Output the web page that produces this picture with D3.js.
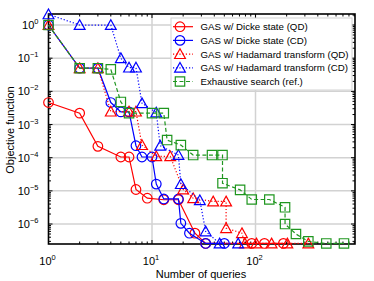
<!DOCTYPE html>
<html>
<head>
<meta charset="utf-8">
<title>GAS queries</title>
<style>
  body { margin: 0; background: #fff; }
  svg { font-family: "Liberation Sans", Arial, sans-serif; }
</style>
</head>
<body>
<svg id="chart" width="374" height="281"></svg>
<script src="https://cdn.jsdelivr.net/npm/d3@7"></script>
<script>
// data (number of queries vs objective function)
var dickeQD_x = [1, 2, 3, 5, 6, 7, 9, 13, 18, 26, 33, 92, 122, 186];
var dickeQD_y = [4.6e-3, 2.2e-3, 2.2e-4, 1.05e-4, 1.05e-4, 1.1e-5, 6e-6, 5.4e-6, 5.4e-6, 5.3e-7, 2.6e-7, 2.6e-7, 2.6e-7, 2.6e-7];

var dickeCD_x = [1, 2, 3, 4, 5, 6, 7, 8, 10, 11, 13, 18, 19, 23, 33, 50];
var dickeCD_y = [1, 0.05, 0.05, 4.6e-3, 2.4e-3, 2.4e-3, 2.3e-4, 1.05e-4, 1.05e-4, 1.6e-5, 5.7e-6, 5.7e-6, 1.05e-6, 5.3e-7, 2.6e-7, 2.6e-7];

var hadQD_x = [1, 2, 3, 4, 6, 7, 8, 11, 15, 20, 25, 39, 52, 52, 74, 79, 102, 143, 203, 324];
var hadQD_y = [1, 0.05, 0.05, 2.45e-3, 2.45e-3, 2.45e-3, 2.4e-4, 1.1e-4, 1.1e-4, 1.1e-5, 6e-6, 4.8e-6, 4.8e-6, 7.5e-7, 5.3e-7, 2.6e-7, 2.6e-7, 2.6e-7, 2.6e-7, 2.6e-7];

var hadCD_x = [1, 2, 4, 5, 6, 7, 8, 11, 12, 18, 19, 29, 33, 45, 68];
var hadCD_y = [2.1, 1, 1, 0.1, 0.052, 0.052, 4.4e-3, 2.3e-3, 2.3e-4, 1.2e-4, 1.6e-5, 5.2e-6, 6e-7, 2.6e-7, 2.6e-7];

var exh_x = [1, 2, 3, 4, 5, 6, 10, 13, 14, 19, 25, 38, 48, 48, 71, 92, 136, 193, 193, 246, 324, 483, 716];
var exh_y = [1, 0.05, 0.05, 0.046, 4.8e-3, 2.2e-3, 2.2e-3, 2.2e-3, 3.4e-4, 2.4e-4, 1.2e-4, 1.2e-4, 1.2e-4, 1.7e-5, 1.07e-5, 5.5e-6, 5.5e-6, 3.2e-6, 1e-6, 5e-7, 3e-7, 2.6e-7, 2.6e-7];

var seriesNames = ["GAS w/ Dicke state (QD)", "GAS w/ Dicke state (CD)",
                   "GAS w/ Hadamard transform (QD)", "GAS w/ Hadamard transform (CD)",
                   "Exhaustive search (ref.)"];

var xTickExp = [0, 1, 2];
var yTickExp = [0, -1, -2, -3, -4, -5, -6];

var series = [
  {name: seriesNames[0], xs: dickeQD_x, ys: dickeQD_y, color: "#ff0000", marker: "circle", dash: null},
  {name: seriesNames[1], xs: dickeCD_x, ys: dickeCD_y, color: "#0000ff", marker: "circle", dash: null},
  {name: seriesNames[2], xs: hadQD_x, ys: hadQD_y, color: "#ff0000", marker: "triangle", dash: "1.2,2"},
  {name: seriesNames[3], xs: hadCD_x, ys: hadCD_y, color: "#0000ff", marker: "triangle", dash: "1.2,2"},
  {name: seriesNames[4], xs: exh_x, ys: exh_y, color: "#1f961f", marker: "square", dash: "4,2.5"}
];

var L = 48.5, R = 355, T = 14, B = 244;
var svg = d3.select("#chart");

var x = d3.scaleLog().domain([1, 915]).range([L, R]);
var y = d3.scaleLog().domain([2.5e-7, 2.15]).range([B, T]);

// grid
var grid = svg.append("g");
xTickExp.slice(1).forEach(function(e) {
  grid.append("line").attr("x1", x(Math.pow(10, e))).attr("x2", x(Math.pow(10, e)))
    .attr("y1", T).attr("y2", B).attr("stroke", "#d2d2d2").attr("stroke-width", 1.5);
});
yTickExp.forEach(function(e) {
  grid.append("line").attr("x1", L).attr("x2", R)
    .attr("y1", y(Math.pow(10, e))).attr("y2", y(Math.pow(10, e)))
    .attr("stroke", "#d2d2d2").attr("stroke-width", 1.5);
});

// ticks (minor + major), mirrored on all four sides
var ticks = svg.append("g").attr("stroke", "#000").attr("stroke-width", 1);
function minorVals(lo, hi) {
  var out = [];
  for (var e = lo; e <= hi; e++) for (var m = 1; m < 10; m++) out.push({v: m * Math.pow(10, e), major: m === 1});
  return out;
}
minorVals(0, 2).forEach(function(t) {
  if (t.v < 1 || t.v > 915) return;
  var px = x(t.v), len = t.major ? 4 : 2.5;
  ticks.append("line").attr("x1", px).attr("x2", px).attr("y1", B).attr("y2", B - len);
  ticks.append("line").attr("x1", px).attr("x2", px).attr("y1", T).attr("y2", T + len);
});
minorVals(-7, 0).forEach(function(t) {
  if (t.v < 2.5e-7 || t.v > 2.15) return;
  var py = y(t.v), len = t.major ? 4 : 2.5;
  ticks.append("line").attr("x1", L).attr("x2", L + len).attr("y1", py).attr("y2", py);
  ticks.append("line").attr("x1", R).attr("x2", R - len).attr("y1", py).attr("y2", py);
});

// frame
svg.append("rect").attr("x", L).attr("y", T).attr("width", R - L).attr("height", B - T)
  .attr("fill", "none").attr("stroke", "#000").attr("stroke-width", 1.6);

// tick labels
xTickExp.forEach(function(e) {
  var t = svg.append("text").attr("x", x(Math.pow(10, e)) - 1).attr("y", 265)
    .attr("text-anchor", "middle").attr("font-size", 11);
  t.append("tspan").text("10");
  t.append("tspan").attr("font-size", 7.5).attr("dy", -5).text(e);
});
yTickExp.forEach(function(e) {
  var t = svg.append("text").attr("x", 38.5).attr("y", y(Math.pow(10, e)) + 4)
    .attr("text-anchor", "end").attr("font-size", 11);
  t.append("tspan").text("10");
  t.append("tspan").attr("font-size", 7.5).attr("dy", -5).text(e === 0 ? "0" : "\u2212" + (-e));
});

// axis titles
svg.append("text").attr("x", 201).attr("y", 278).attr("text-anchor", "middle")
  .attr("font-size", 11).text("Number of queries");
svg.append("text").attr("transform", "translate(14,130) rotate(-90)")
  .attr("text-anchor", "middle").attr("font-size", 11).text("Objective function");

function markerPath(kind) {
  if (kind === "triangle") return "M0,-5.3L5.4,4.4L-5.4,4.4Z";
  if (kind === "square") return "M-4.7,-4.7H4.7V4.7H-4.7Z";
  return d3.symbol().type(d3.symbolCircle).size(Math.PI * 4.8 * 4.8)();
}

// series
var line = d3.line().x(function(d) { return x(d[0]); }).y(function(d) { return y(d[1]); });
series.forEach(function(s) {
  var pts = s.xs.map(function(v, i) { return [v, s.ys[i]]; });
  var g = svg.append("g");
  g.append("path").attr("d", line(pts)).attr("fill", "none").attr("stroke", s.color)
    .attr("stroke-width", 1.2).attr("stroke-dasharray", s.dash);
  g.selectAll("path.m").data(pts).enter().append("path").attr("class", "m")
    .attr("transform", function(d) { return "translate(" + x(d[0]) + "," + y(d[1]) + ")"; })
    .attr("d", markerPath(s.marker)).attr("fill", "none")
    .attr("stroke", s.color).attr("stroke-width", 1.2);
});

// legend
var lg = svg.append("g");
lg.append("rect").attr("x", 171).attr("y", 18).attr("width", 181).attr("height", 72)
  .attr("fill", "#fff").attr("stroke", "#d2d2d2").attr("stroke-width", 1);
series.forEach(function(s, i) {
  var ly = 26.7 + i * 13.7;
  lg.append("line").attr("x1", 173).attr("x2", 193).attr("y1", ly).attr("y2", ly)
    .attr("stroke", s.color).attr("stroke-width", 1.2).attr("stroke-dasharray", s.dash);
  lg.append("path").attr("transform", "translate(180," + ly + ")").attr("d", markerPath(s.marker))
    .attr("fill", "none").attr("stroke", s.color).attr("stroke-width", 1.2);
  lg.append("text").attr("x", 200.5).attr("y", ly + 3.5).attr("font-size", 9.7).text(s.name);
});
</script>
</body>
</html>
